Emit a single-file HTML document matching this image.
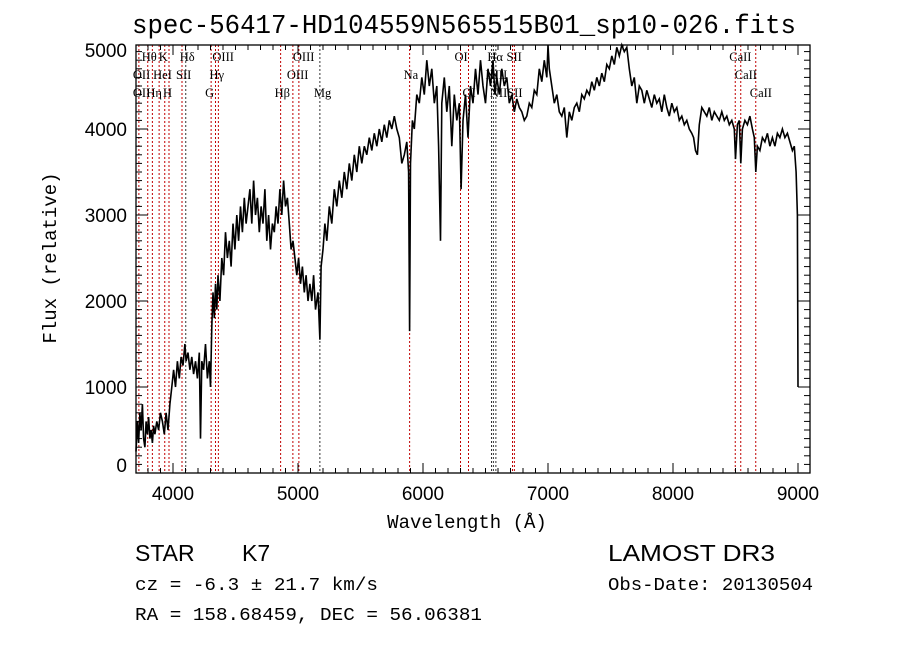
<!DOCTYPE html>
<html><head><meta charset="utf-8"><style>
html,body{margin:0;padding:0;background:#fff}
svg{display:block}
</style></head><body>
<svg id="c" width="900" height="649" xmlns="http://www.w3.org/2000/svg">
<rect width="900" height="649" fill="#fff"/>
<text x="464" y="33" text-anchor="middle" font-family="Liberation Mono, monospace" font-size="27" textLength="664" lengthAdjust="spacingAndGlyphs">spec-56417-HD104559N565515B01_sp10-026.fits</text>
<g id="lines"></g>
<g id="labels" font-family="Liberation Serif, serif" font-size="12.5"></g>
<path id="spec" fill="none" stroke="#000" stroke-width="1.6" stroke-linejoin="miter"/>
<rect x="136" y="45" width="674" height="428" fill="none" stroke="#000" stroke-width="1.3"/>
<g id="ticks" stroke="#000" stroke-width="1"></g>
<g id="ticklabels" font-family="Liberation Sans, sans-serif" font-size="19"></g>
<text x="467" y="528" text-anchor="middle" font-family="Liberation Mono, monospace" font-size="19">Wavelength (Å)</text>
<text transform="translate(56,258) rotate(-90)" text-anchor="middle" font-family="Liberation Mono, monospace" font-size="19">Flux (relative)</text>
<text x="135" y="561" font-family="Liberation Sans, sans-serif" font-size="23">STAR</text>
<text x="242" y="561" font-family="Liberation Sans, sans-serif" font-size="23">K7</text>
<text x="608" y="561" font-family="Liberation Sans, sans-serif" font-size="23" textLength="167" lengthAdjust="spacingAndGlyphs">LAMOST DR3</text>
<text x="135" y="590" font-family="Liberation Mono, monospace" font-size="18" textLength="243" lengthAdjust="spacingAndGlyphs">cz = -6.3 ± 21.7 km/s</text>
<text x="608" y="590" font-family="Liberation Mono, monospace" font-size="18" textLength="205" lengthAdjust="spacingAndGlyphs">Obs-Date: 20130504</text>
<text x="135" y="620" font-family="Liberation Mono, monospace" font-size="18" textLength="347" lengthAdjust="spacingAndGlyphs">RA = 158.68459, DEC =  56.06381</text>
</svg>
<script>
const wl=[3704,3715,3725,3735,3745,3755,3765,3775,3785,3795,3805,3815,3825,3835,3845,3855,3870,3885,3900,3915,3930,3945,3960,3975,3990,4005,4020,4035,4050,4065,4080,4095,4105,4120,4135,4150,4165,4180,4195,4210,4220,4230,4245,4260,4275,4290,4300,4310,4320,4330,4340,4350,4360,4375,4390,4405,4420,4435,4450,4465,4480,4495,4510,4525,4540,4555,4570,4585,4600,4615,4630,4645,4660,4675,4690,4705,4720,4735,4750,4765,4780,4795,4810,4825,4840,4855,4870,4885,4900,4915,4930,4945,4960,4975,4990,5005,5020,5035,5050,5065,5080,5095,5110,5125,5140,5160,5175,5185,5200,5215,5230,5250,5270,5290,5310,5330,5350,5370,5390,5410,5430,5450,5470,5490,5510,5530,5550,5570,5590,5610,5630,5650,5670,5690,5710,5730,5750,5770,5790,5810,5830,5850,5870,5885,5893,5900,5915,5930,5950,5970,5990,6010,6030,6050,6070,6090,6110,6125,6140,6150,6170,6190,6210,6230,6250,6270,6290,6305,6320,6340,6360,6380,6400,6420,6440,6460,6480,6500,6520,6540,6560,6575,6590,6610,6630,6650,6670,6690,6710,6730,6750,6770,6790,6810,6830,6850,6870,6890,6910,6930,6950,6970,6990,7000,7010,7030,7050,7070,7090,7110,7130,7150,7170,7190,7210,7230,7250,7270,7290,7310,7330,7350,7370,7390,7410,7430,7450,7470,7490,7510,7530,7550,7570,7590,7610,7630,7650,7670,7690,7710,7730,7750,7770,7790,7810,7830,7850,7870,7890,7910,7930,7950,7970,7990,8010,8030,8050,8070,8090,8110,8130,8150,8165,8180,8195,8210,8230,8250,8270,8290,8310,8330,8350,8370,8390,8410,8430,8450,8470,8490,8500,8515,8530,8542,8555,8575,8595,8615,8635,8650,8662,8675,8695,8715,8735,8755,8775,8795,8815,8835,8855,8875,8895,8915,8935,8955,8970,8985,8995,9000];
const flux=[250,600,350,700,500,800,400,300,600,450,650,400,500,350,550,450,600,500,700,600,450,700,500,800,1000,1200,1000,1300,1100,1350,1250,1500,1300,1400,1200,1350,1150,1300,1100,1400,400,1300,1200,1500,1100,1300,1000,1700,2100,1800,2200,1900,2300,2000,2500,2300,2800,2500,2700,2400,2900,2600,3000,2700,3100,2800,3200,2900,3100,3300,2900,3400,3000,3200,2800,3100,2900,3300,2700,3000,2600,2900,2800,3100,2900,3300,3000,3400,3100,3200,2900,2600,2700,2500,2300,2500,2200,2400,2100,2300,2000,2200,2000,2300,1900,2100,1550,2400,2600,2900,2700,3100,2900,3300,3100,3400,3200,3500,3300,3600,3400,3700,3500,3800,3600,3800,3700,3900,3750,3950,3800,4000,3850,4050,3900,4100,4000,4150,4000,3900,3600,3700,3850,3500,1650,3600,4100,4000,4400,4300,4600,4400,4800,4500,4700,4300,4500,3800,2700,4300,4600,4200,4500,3800,4400,4100,4300,3300,4100,4400,3900,4500,4300,4700,4400,4800,4500,4300,4700,4500,4800,4400,4600,4400,4700,4500,4600,4300,4400,4200,4350,4250,4200,4100,4150,4300,4250,4450,4400,4700,4550,4800,4600,5050,4700,4500,4300,4400,4200,4150,4250,3900,4200,4100,4250,4300,4200,4400,4350,4450,4400,4550,4450,4600,4500,4650,4550,4750,4700,4850,4750,4950,4850,5000,4900,4950,4700,4500,4600,4300,4500,4450,4300,4450,4350,4250,4400,4300,4350,4200,4400,4250,4150,4300,4200,4250,4100,4150,4050,4100,4000,3950,3900,3750,3700,4050,4250,4200,4150,4250,4100,4200,4150,4100,4200,4100,4150,4050,4100,4000,3650,4050,4100,3600,4000,4100,4050,4150,4000,3900,3500,3800,3750,3900,3850,3950,3800,3900,3800,3950,3900,4000,3900,3950,3850,3750,3800,3500,3000,1000];
const lineWl=[3727,3798,3835,3889,3934,3968,4072,4102,4305,4340,4363,4861,4959,5007,5175,5893,6300,6364,6548,6563,6583,6716,6731,8498,8542,8662];
const lineDark=[0,0,0,0,0,0,0,1,0,0,0,0,0,0,1,0,0,0,1,1,1,0,0,0,0,0];
const labelText=["Hθ","K","Hδ","OIII","OIII","OI","Hα","SII","CaII","OII","HeI","SII","Hγ","OIII","Na","NII","NII","CaII","OII","Hη","H","G","Hβ","Mg","OI","NIISII","CaII"];
const labelWl=[3798,3934,4102,4363,5007,6300,6563,6716,8498,3727,3889,4072,4340,4959,5893,6548,6583,8542,3727,3835,3968,4305,4861,5175,6364,6583,8662];
const labelRow=[0,0,0,0,0,0,0,0,0,1,1,1,1,1,1,1,1,1,2,2,2,2,2,2,2,2,2];
const xTicks=[4000,5000,6000,7000,8000,9000];
const yTicks=[0,1000,2000,3000,4000,5000];
const X=l=>173+(l-4000)*0.125;
const Y=f=>473-f*0.086;
const ns="http://www.w3.org/2000/svg";
function mk(tag,parent,attrs){const e=document.createElementNS(ns,tag);for(const k in attrs)e.setAttribute(k,attrs[k]);parent.appendChild(e);return e;}
let d="";for(let i=0;i<wl.length;i++){d+=(i?"L":"M")+X(wl[i]).toFixed(1)+" "+Math.max(45,Y(flux[i])).toFixed(1);}
document.getElementById("spec").setAttribute("d",d);
const lg=document.getElementById("lines");
lineWl.forEach((l,i)=>{const e=mk("line",lg,{x1:X(l),x2:X(l),y1:45,y2:473,stroke:lineDark[i]?"#333":"#c00000","stroke-width":1,"stroke-dasharray":"2,2"});

});
const lb=document.getElementById("labels");
labelText.forEach((t,i)=>{const e=mk("text",lb,{x:X(labelWl[i])-6,y:61+labelRow[i]*18});e.textContent=t;

});
const tg=document.getElementById("ticks"),tl=document.getElementById("ticklabels");
for(let l=3800;l<=9000;l+=100){const L=l%1000===0?10:5;
mk("line",tg,{x1:X(l),x2:X(l),y1:473,y2:473-L});mk("line",tg,{x1:X(l),x2:X(l),y1:45,y2:45+L});}
for(let f=0;f<=4900;f+=100){const L=f%1000===0?12:6;
mk("line",tg,{x1:136,x2:136+L,y1:Y(f),y2:Y(f)});mk("line",tg,{x1:810,x2:810-L,y1:Y(f),y2:Y(f)});}
xTicks.forEach(v=>{const e=mk("text",tl,{x:X(v),y:500,"text-anchor":"middle"});e.textContent=v;

});
yTicks.forEach(v=>{let y=Y(v)+7;if(v===0)y=472;if(v===5000)y=57;const e=mk("text",tl,{x:127,y:y,"text-anchor":"end"});e.textContent=v;

});
</script>
</body></html>
